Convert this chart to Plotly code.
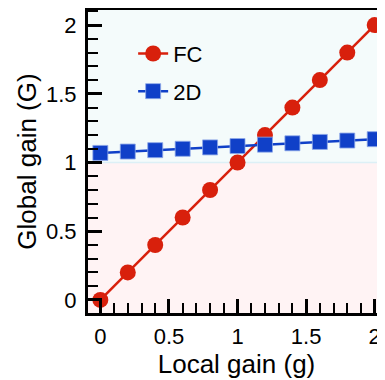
import plotly.graph_objects as go

local_gain = [0, 0.2, 0.4, 0.6, 0.8, 1.0, 1.2, 1.4, 1.6, 1.8, 2.0]
fc_gain = [0, 0.2, 0.4, 0.6, 0.8, 1.0, 1.2, 1.4, 1.6, 1.8, 2.0]
d2_gain = [1.07, 1.08, 1.09, 1.10, 1.11, 1.12, 1.13, 1.14, 1.15, 1.16, 1.17]

x_ticks = [0, 0.5, 1, 1.5, 2]
x_labels = ["0", "0.5", "1", "1.5", "2"]
y_ticks = [0, 0.5, 1, 1.5, 2]
y_labels = ["0", "0.5", "1", "1.5", "2"]

RED = "#d8200c"
BLUE = "#1040c8"
FONT = "Liberation Sans, Arial, sans-serif"

fig = go.Figure()
fig.add_trace(go.Scatter(
    x=local_gain, y=fc_gain, name="FC", mode="lines+markers",
    line=dict(color=RED, width=2.5),
    marker=dict(symbol="circle", size=16, color=RED),
    legendgroup="a",
))
fig.add_trace(go.Scatter(
    x=local_gain, y=d2_gain, name="2D", mode="lines+markers",
    line=dict(color=BLUE, width=2.5),
    marker=dict(symbol="square", size=15, color=BLUE, line=dict(color="#8ea8e8", width=0.8)),
    legendgroup="b",
))

# background regions
fig.add_shape(type="rect", xref="paper", yref="y", x0=0, x1=1, y0=1, y1=2.3,
              fillcolor="#f4fbfb", line=dict(width=0), layer="below")
fig.add_shape(type="rect", xref="paper", yref="y", x0=0, x1=1, y0=-0.3, y1=1,
              fillcolor="#fff3f4", line=dict(width=0), layer="below")
fig.add_shape(type="line", xref="paper", yref="y", x0=0, x1=1, y0=1, y1=1,
              line=dict(color="#dcf0f6", width=1.5), layer="below")

axis_common = dict(
    showline=True, linecolor="black", linewidth=3,
    ticks="inside", ticklen=14, tickwidth=2.5, tickcolor="black",
    showgrid=False, zeroline=False, automargin=False,
    tickfont=dict(family=FONT, size=22, color="black"),
    minor=dict(ticks="inside", ticklen=10, tickwidth=2, tickcolor="black", dtick=0.1, showgrid=False),
)

# page body has an 8px margin: size the figure so the plot lands where the reference has it
fig.update_layout(
    width=377, height=372,
    margin=dict(l=80, r=0, t=2, b=67),
    plot_bgcolor="white", paper_bgcolor="white",
    font=dict(family=FONT, color="black"),
    showlegend=True,
    legend=dict(x=0.152, y=0.925, xanchor="left", yanchor="top",
                bgcolor="rgba(0,0,0,0)", font=dict(family=FONT, size=22),
                traceorder="grouped", tracegroupgap=6),
    xaxis=dict(axis_common, range=[-0.09, 2.075], tickvals=x_ticks, ticktext=x_labels,
               mirror=True, ticklabelstandoff=2,
               title=dict(text="Local gain (g)", font=dict(family=FONT, size=26), standoff=2)),
    yaxis=dict(axis_common, range=[-0.095, 2.11], tickvals=y_ticks, ticktext=y_labels,
               ticklabelstandoff=4,
               title=dict(text="Global gain (G)", font=dict(family=FONT, size=26), standoff=2)),
)

fig.write_html("out.html")
